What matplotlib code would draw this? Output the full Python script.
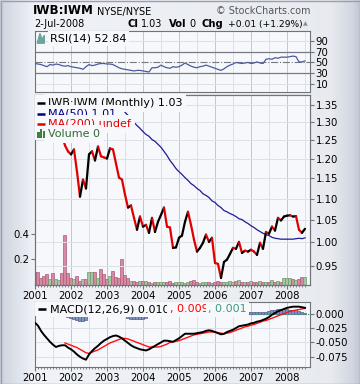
import numpy as np
import matplotlib
matplotlib.use("Agg")
import matplotlib.pyplot as plt
from matplotlib.patches import Rectangle
from matplotlib.ticker import FixedLocator, FixedFormatter, NullLocator, NullFormatter

# ---- data (monthly, Jan 2001 .. Jul 2008) ----
years = ["2001", "2002", "2003", "2004", "2005", "2006", "2007", "2008"]

price = [1.376, 1.338, 1.314, 1.280, 1.250, 1.254, 1.247, 1.274, 1.286, 1.263,
         1.236, 1.220, 1.212, 1.225, 1.167, 1.105, 1.147, 1.125, 1.212, 1.220,
         1.196, 1.233, 1.207, 1.204, 1.201, 1.228, 1.225, 1.188, 1.152, 1.147,
         1.110, 1.079, 1.084, 1.055, 1.028, 1.058, 1.035, 1.039, 1.021, 1.055,
         1.023, 1.046, 1.062, 1.079, 1.035, 1.033, 0.988, 0.989, 1.010, 1.015,
         1.046, 1.069, 1.039, 1.006, 0.980, 0.988, 0.999, 1.017, 1.001, 1.010,
         0.956, 0.954, 0.925, 0.958, 0.963, 0.975, 0.988, 0.986, 1.001, 0.977,
         0.982, 0.980, 0.984, 0.980, 0.973, 0.999, 0.986, 1.023, 1.019, 1.035,
         1.026, 1.055, 1.049, 1.058, 1.060, 1.061, 1.058, 1.059, 1.028, 1.021,
         1.030]

ma50_start = 20
ma50 = [1.419, 1.410, 1.400, 1.391, 1.382, 1.373, 1.364, 1.355, 1.346, 1.338,
        1.329, 1.320, 1.311, 1.300, 1.291, 1.283, 1.274, 1.266, 1.261, 1.252,
        1.247, 1.239, 1.231, 1.220, 1.209, 1.196, 1.186, 1.175, 1.167, 1.160,
        1.152, 1.145, 1.137, 1.132, 1.125, 1.120, 1.112, 1.108, 1.103, 1.095,
        1.091, 1.084, 1.079, 1.072, 1.069, 1.065, 1.062, 1.058, 1.053, 1.051,
        1.046, 1.042, 1.037, 1.033, 1.028, 1.024, 1.020, 1.017, 1.015, 1.011,
        1.009, 1.008, 1.007, 1.007, 1.007, 1.007, 1.007, 1.008, 1.009, 1.008,
        1.010]

volume = [0.100, 0.100, 0.057, 0.073, 0.088, 0.047, 0.096, 0.047, 0.039, 0.096,
          0.390, 0.096, 0.057, 0.047, 0.073, 0.034, 0.047, 0.047, 0.100, 0.100,
          0.100, 0.052, 0.125, 0.083, 0.047, 0.073, 0.110, 0.065, 0.052, 0.200,
          0.078, 0.052, 0.031, 0.034, 0.026, 0.034, 0.034, 0.034, 0.026, 0.018,
          0.026, 0.021, 0.021, 0.026, 0.026, 0.031, 0.018, 0.026, 0.026, 0.021,
          0.018, 0.026, 0.034, 0.039, 0.026, 0.018, 0.026, 0.021, 0.026, 0.018,
          0.026, 0.031, 0.026, 0.021, 0.026, 0.031, 0.026, 0.031, 0.039, 0.026,
          0.021, 0.026, 0.031, 0.021, 0.026, 0.034, 0.026, 0.021, 0.026, 0.039,
          0.026, 0.031, 0.026, 0.052, 0.057, 0.052, 0.047, 0.039, 0.047, 0.060,
          0.065]

rsi = [48, 47, 46, 44, 42, 46, 45, 47, 46, 44,
       43, 44, 42, 41, 40, 39, 37, 42, 46, 44,
       45, 47, 48, 48, 47, 47, 46, 43, 40, 38,
       37, 36, 35, 34, 35, 35, 34, 33, 32, 40,
       40, 41, 45, 42, 40, 39, 42, 41, 42, 45,
       49, 46, 43, 41, 40, 42, 43, 45, 43, 41,
       39, 37, 35, 38, 42, 45, 47, 50, 49, 48,
       49, 50, 48, 49, 51, 49, 48, 56, 57, 56,
       59, 58, 60, 60, 60, 61, 62, 61, 51, 51,
       52.84]

macd = [-0.016, -0.021, -0.030, -0.037, -0.043, -0.049, -0.054, -0.058, -0.056, -0.055,
        -0.055, -0.059, -0.062, -0.066, -0.071, -0.075, -0.078, -0.080, -0.071, -0.065,
        -0.060, -0.056, -0.051, -0.047, -0.044, -0.041, -0.039, -0.038, -0.040, -0.043,
        -0.047, -0.051, -0.055, -0.058, -0.060, -0.062, -0.063, -0.064, -0.062, -0.059,
        -0.056, -0.053, -0.050, -0.047, -0.047, -0.048, -0.049, -0.046, -0.043, -0.039,
        -0.035, -0.035, -0.035, -0.035, -0.034, -0.033, -0.032, -0.030, -0.029, -0.030,
        -0.032, -0.034, -0.036, -0.035, -0.032, -0.030, -0.028, -0.025, -0.022, -0.021,
        -0.020, -0.019, -0.017, -0.016, -0.014, -0.013, -0.011, -0.009, -0.006, -0.002,
        0.001, 0.004, 0.006, 0.008, 0.010, 0.011, 0.012, 0.012, 0.012, 0.011,
        0.010]

signal_start = 10
signal = [-0.051, -0.053, -0.055, -0.057, -0.059, -0.062, -0.065, -0.068, -0.069, -0.067,
          -0.065, -0.063, -0.060, -0.057, -0.054, -0.051, -0.049, -0.047, -0.045, -0.043,
          -0.043, -0.044, -0.046, -0.048, -0.050, -0.052, -0.054, -0.056, -0.058, -0.058,
          -0.058, -0.058, -0.057, -0.055, -0.053, -0.050, -0.049, -0.048, -0.047, -0.045,
          -0.043, -0.041, -0.039, -0.037, -0.036, -0.035, -0.034, -0.033, -0.032, -0.032,
          -0.032, -0.033, -0.034, -0.035, -0.034, -0.033, -0.031, -0.029, -0.027, -0.025,
          -0.023, -0.022, -0.020, -0.019, -0.017, -0.015, -0.013, -0.012, -0.010, -0.008,
          -0.006, -0.004, -0.002, 0.000, 0.002, 0.004, 0.005, 0.006, 0.007, 0.008,
          0.009]

price_ticks = [0.95, 1.00, 1.05, 1.10, 1.15, 1.20, 1.25, 1.30, 1.35]
rsi_ticks = [10, 30, 50, 70, 90]
macd_ticks = [-0.075, -0.050, -0.025, 0.000]
vol_ticks = [0.2, 0.4]

# ---- style ----
W, H = 360, 384
PANEL = "#F7F8FB"
SPINE = "#6F737C"
GRID_YEAR = "#C3C6CE"
GRID_HALF = "#DDE0E6"
UP, DOWN = "#000000", "#E00000"
FS = 7

months = list(range(len(price)))
year_pos = months[::12]
xmax = 91.67

fig = plt.figure(figsize=(W / 100, H / 100), dpi=100)
fig.patch.set_facecolor("#E6E8EE")

# soft grey-blue page background, darker toward the left/right edges
bg_ax = fig.add_axes([0, 0, 1, 1], zorder=-10)
xs = np.arange(W)
stops_x = [0, 4, 34, 330, 352, 359]
stops_c = np.array([[0.78, 0.80, 0.85], [0.82, 0.84, 0.88], [0.94, 0.95, 0.97],
                    [0.91, 0.92, 0.94], [0.82, 0.84, 0.88], [0.76, 0.78, 0.83]])
row = np.stack([np.interp(xs, stops_x, stops_c[:, k]) for k in range(3)], axis=1)
bg_ax.imshow(np.repeat(row[None, :, :], H, axis=0), aspect="auto", extent=[0, W, H, 0])
bg_ax.add_patch(Rectangle((0.5, 0.5), W - 1, H - 1, fc="none", ec="#9A9FAA", lw=1))
bg_ax.set_xlim(0, W)
bg_ax.set_ylim(H, 0)
bg_ax.axis("off")


def px_axes(x0, y0, x1, y1):
    return fig.add_axes([x0 / W, 1 - y1 / H, (x1 - x0) / W, (y1 - y0) / H])


def base_panel(ax, labels):
    ax.set_facecolor(PANEL)
    for s in ax.spines.values():
        s.set_color(SPINE)
        s.set_linewidth(0.8)
    ax.set_xlim(0, xmax)
    ax.xaxis.set_major_locator(FixedLocator(year_pos))
    ax.xaxis.set_minor_locator(FixedLocator(months))
    if labels:
        ax.xaxis.set_major_formatter(FixedFormatter(years))
    else:
        ax.xaxis.set_major_formatter(NullFormatter())
    ax.tick_params(axis="x", which="major", length=3, labelsize=FS + 0.3, pad=1, color=SPINE)
    ax.tick_params(axis="x", which="minor", length=1.5, color=SPINE)
    ax.yaxis.tick_right()
    ax.tick_params(axis="y", which="both", length=3, labelsize=FS + 0.3, pad=1, color=SPINE)
    for m in months[::6]:
        ax.axvline(m, color=GRID_YEAR if m % 12 == 0 else GRID_HALF, lw=0.7, zorder=0.5)


# ---- RSI panel ----
ax_rsi = px_axes(35, 31, 310, 92)
base_panel(ax_rsi, labels=False)
ax_rsi.tick_params(axis="x", which="both", length=0)
ax_rsi.set_ylim(-5.8, 109.4)
ax_rsi.yaxis.set_major_locator(FixedLocator(rsi_ticks))
for lvl in [10, 90]:
    ax_rsi.axhline(lvl, color=GRID_HALF, lw=0.7, zorder=0.5)
for lvl in [30, 70]:
    ax_rsi.axhline(lvl, color="#777A82", lw=0.9, zorder=1)
ax_rsi.axhline(50, color="#777A82", lw=0.8, ls="-.", zorder=1)
ax_rsi.plot(months, rsi, color="#4B5B9E", lw=0.9, zorder=3)
ax_rsi.text(0.055, 0.88, "RSI(14) 52.84", transform=ax_rsi.transAxes, fontsize=FS + 1,
            va="center", ha="left", zorder=5,
            bbox=dict(boxstyle="square,pad=0.2", fc=PANEL, ec="none"))
ax_rsi.fill([0.008, 0.018, 0.026, 0.034, 0.034, 0.008],
            [0.80, 0.96, 0.86, 0.93, 0.80, 0.80],
            transform=ax_rsi.transAxes, color="#6FA3A0", zorder=6)

# ---- price panel with volume overlay ----
ax_px = px_axes(35, 95, 310, 285)
ax_vol = ax_px.twinx()
base_panel(ax_vol, labels=False)
ax_vol.patch.set_visible(True)
ax_vol.yaxis.tick_left()
ax_vol.set_ylim(0, 1.49)
ax_vol.yaxis.set_major_locator(FixedLocator(vol_ticks))
ax_vol.yaxis.set_major_formatter(FixedFormatter(["0.2", "0.4"]))
ax_vol.tick_params(axis="y", length=3, labelsize=FS + 0.3, pad=1, color=SPINE)
vol_colors = ["#D68AA2" if i > 0 and price[i] < price[i - 1] else "#A6C4A2" for i in months]
vol_edges = ["#B0587A" if c == "#D68AA2" else "#6E9A6A" for c in vol_colors]
ax_vol.bar(months, volume, width=1.0, color=vol_colors, edgecolor=vol_edges, linewidth=0.5, zorder=2)

ax_px.set_zorder(ax_vol.get_zorder() + 1)
ax_px.patch.set_visible(False)
for s in ax_px.spines.values():
    s.set_color(SPINE)
    s.set_linewidth(0.8)
ax_px.set_xlim(0, xmax)
ax_px.set_yscale("log")
ax_px.set_ylim(0.911, 1.380)
ax_px.yaxis.tick_right()
ax_px.yaxis.set_major_locator(FixedLocator(price_ticks))
ax_px.yaxis.set_major_formatter(FixedFormatter([f"{t:.2f}" for t in price_ticks]))
ax_px.yaxis.set_minor_locator(NullLocator())
ax_px.xaxis.set_major_locator(FixedLocator(year_pos))
ax_px.xaxis.set_major_formatter(FixedFormatter(years))
ax_px.xaxis.set_minor_locator(FixedLocator(months))
ax_px.tick_params(axis="y", length=3, labelsize=FS + 0.3, pad=1, color=SPINE)
ax_px.tick_params(axis="x", which="major", length=3, labelsize=FS + 0.3, pad=1, color=SPINE)
ax_px.tick_params(axis="x", which="minor", length=1.5, color=SPINE)
for t in price_ticks:
    ax_px.axhline(t, color=GRID_HALF, lw=0.7, zorder=0.5)

for i in months[:-1]:
    c = UP if price[i + 1] >= price[i] else DOWN
    ax_px.plot([i, i + 1], [price[i], price[i + 1]], color=c, lw=1.6,
               solid_capstyle="round", zorder=3)
ax_px.plot(range(ma50_start, ma50_start + len(ma50)), ma50, color="#1C1C96", lw=0.9, zorder=2.5)

legend_rows = [("IWB:IWM (Monthly) 1.03", "#000000", 0.958),
               ("MA(50) 1.01", "#000080", 0.902),
               ("MA(200) undef", "#E00000", 0.848),
               ("Volume 0", "#2F6B2F", 0.794)]
for label, col, yy in legend_rows:
    ax_px.text(0.047, yy, label, transform=ax_px.transAxes,
               fontsize=FS + 1, color=col, va="center", ha="left", zorder=5,
               bbox=dict(boxstyle="square,pad=0.35", fc=PANEL, ec="none"))
ax_px.add_patch(Rectangle((0.0, 0.765), 0.05, 0.235, transform=ax_px.transAxes,
                          fc=PANEL, ec="none", zorder=4))
for label, col, yy in legend_rows[:3]:
    ax_px.plot([0.007, 0.037], [yy, yy], transform=ax_px.transAxes, color=col,
               lw=1.8, zorder=6, solid_capstyle="butt")
for k, hgt in enumerate([0.028, 0.048, 0.038]):
    ax_px.add_patch(Rectangle((0.009 + k * 0.010, 0.775), 0.008, hgt,
                              transform=ax_px.transAxes, fc="#3F7F3F", ec="none", zorder=6))

# ---- MACD panel ----
ax_macd = px_axes(35, 302, 310, 367)
base_panel(ax_macd, labels=True)
ax_macd.set_ylim(-0.0927, 0.0201)
ax_macd.yaxis.set_major_locator(FixedLocator(macd_ticks))
ax_macd.yaxis.set_major_formatter(FixedFormatter([f"{t:.3f}" for t in macd_ticks]))
for t in macd_ticks[:-1]:
    ax_macd.axhline(t, color=GRID_HALF, lw=0.7, zorder=0.5)
sig_x = list(range(signal_start, signal_start + len(signal)))
hist = [macd[i] - s for i, s in zip(sig_x, signal)]
ax_macd.bar(sig_x, hist, width=1.0, color="#7F93BE", edgecolor="#50608F", linewidth=0.5, zorder=2)
ax_macd.axhline(0, color="#3E9A80", lw=0.9, ls=(0, (1, 1)), zorder=2.2)
ax_macd.plot(sig_x, signal, color="#FF1010", lw=1.0, zorder=3)
ax_macd.plot(months, macd, color="#000000", lw=1.4, zorder=4)

t1 = ax_macd.text(0.055, 0.885, "MACD(12,26,9) 0.010", transform=ax_macd.transAxes,
                  fontsize=FS + 1, va="center", ha="left", zorder=5,
                  bbox=dict(boxstyle="square,pad=0.2", fc=PANEL, ec="none"))
t2 = ax_macd.annotate(", 0.009", xycoords=t1, xy=(1, 0), va="bottom", ha="left",
                      fontsize=FS + 1, color="#FF0000", zorder=5,
                      bbox=dict(boxstyle="square,pad=0.2", fc=PANEL, ec="none"))
ax_macd.annotate(", 0.001", xycoords=t2, xy=(1, 0), va="bottom", ha="left",
                 fontsize=FS + 1, color="#3E9A80", zorder=5,
                 bbox=dict(boxstyle="square,pad=0.2", fc=PANEL, ec="none"))
ax_macd.add_patch(Rectangle((0.0, 0.78), 0.056, 0.22, transform=ax_macd.transAxes,
                            fc=PANEL, ec="none", zorder=4))
ax_macd.plot([0.01, 0.04], [0.885, 0.885], transform=ax_macd.transAxes, color="black",
             lw=1.8, zorder=6, solid_capstyle="butt")


# ---- header ----
def ftext(x, y, s, **kw):
    fig.text(x / W, 1 - y / H, s, va="center", **kw)


ftext(33, 11, "IWB:IWM", fontsize=8.6, fontweight="bold")
ftext(97, 11.5, "NYSE/NYSE", fontsize=7)
ftext(310, 11, "© StockCharts.com", fontsize=6.9, color="#555555", ha="right")
ftext(34, 24, "2-Jul-2008", fontsize=7)
ftext(128, 24, "Cl", fontsize=7.2, fontweight="bold")
ftext(141, 24, "1.03", fontsize=7)
ftext(169, 24, "Vol", fontsize=7.2, fontweight="bold")
ftext(189, 24, "0", fontsize=7)
ftext(202, 24, "Chg", fontsize=7.2, fontweight="bold")
ftext(228, 24, "+0.01 (+1.29%)", fontsize=6.6)
ftext(303, 24, "▲", fontsize=4.5, color="#8A8E98")

fig.savefig("out.png", dpi=100, facecolor=fig.get_facecolor())
